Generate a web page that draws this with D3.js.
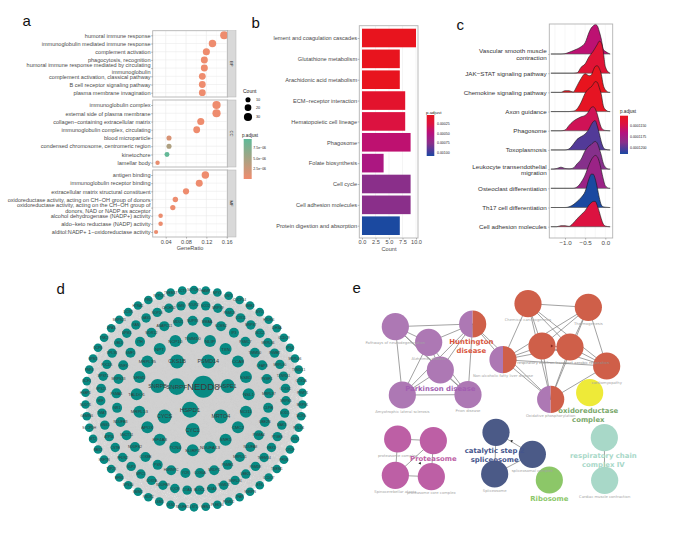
<!DOCTYPE html>
<html><head><meta charset="utf-8">
<script src="https://cdn.jsdelivr.net/npm/d3@7"></script>
<style>html,body{margin:0;background:#fff}svg{display:block}text{font-family:"Liberation Sans",Arial,sans-serif}</style>
</head><body>
<script>
// ---------- panel a
const goBP=["humoral immune response","immunoglobulin mediated immune response","complement activation","phagocytosis, recognition","humoral immune response mediated by circulating|immunoglobulin","complement activation, classical pathway","B cell receptor signaling pathway","plasma membrane invagination"];
const goCC=["immunoglobulin complex","external side of plasma membrane","collagen−containing extracellular matrix","immunoglobulin complex, circulating","blood microparticle","condensed chromosome, centromeric region","kinetochore","lamellar body"];
const goMF=["antigen binding","immunoglobulin receptor binding","extracellular matrix structural constituent","oxidoreductase activity, acting on CH−OH group of donors","oxidoreductase activity, acting on the CH−OH group of|donors, NAD or NADP as acceptor","alcohol dehydrogenase (NADP+) activity","aldo−keto reductase (NADP) activity","alditol:NADP+ 1−oxidoreductase activity"];
const ratioBP=[.155,.132,.12,.116,.116,.112,.112,.112];
const ratioCC=[.14,.14,.109,.101,.0465,.0465,.0425,.024];
const ratioMF=[.118,.106,.08,.059,.054,.03,.03,.021];
const countBP=[29,25,23,22,22,21,21,21];
const countCC=[30,30,23,21,10,10,9,5];
const countMF=[25,22,17,12,11,6,6,4];
const padjBP=[.2e-6,.2e-6,.2e-6,.2e-6,.2e-6,.2e-6,.2e-6,.2e-6];
const padjCC=[.2e-6,.2e-6,.2e-6,.2e-6,1.6e-6,4.4e-6,9.3e-6,.6e-6];
const padjMF=[.2e-6,.2e-6,.2e-6,.3e-6,.3e-6,.4e-6,.4e-6,.4e-6];
const ratioTicks=[.04,.08,.12,.16];
// ---------- panel b
const pathwaysB=["lement and coagulation cascades","Glutathione metabolism","Arachidonic acid metabolism","ECM−receptor interaction","Hematopoietic cell lineage","Phagosome","Folate biosynthesis","Cell cycle","Cell adhesion molecules","Protein digestion and absorption"];
const countsB=[10,7,7,8,8,9,4,9,9,7];
const padjB=[.00002,.00002,.00002,.00012,.00025,.00044,.00055,.00075,.00075,.00108];
const countTicks=[0,2.5,5,7.5,10];
// ---------- panel c
const pathwaysC=["Vascular smooth muscle|contraction","JAK−STAT signaling pathway","Chemokine signaling pathway","Axon guidance","Phagosome","Toxoplasmosis","Leukocyte transendothelial|migration","Osteoclast differentiation","Th17 cell differentiation","Cell adhesion molecules"];
const padjC=[.0001162,.000114,.0001127,.000113,.0001153,.0001201,.0001188,.0001179,.0001214,.0001146];
const ridgeX=[-1.35,-1.2,-1.1,-1,-.9,-.8,-.7,-.6,-.5,-.4,-.35,-.3,-.25,-.2,-.15,-.1,-.05,0,.1,.12];
const ridgeVascular=[0,0,0,1,5,10,15,22,34,66,78,84,89,85,68,45,14,8,1,0];
const ridgeJak=[0,0,0,0,0,0,1,18,28,50,58,66,76,86,96,92,66,20,1,0];
const ridgeChemokine=[0,0,0,5,5,1,20,42,56,50,52,66,78,80,72,55,22,8,0,0];
const ridgeAxon=[0,0,0,0,0,1,8,28,55,70,74,82,90,88,72,52,18,6,0,0];
const ridgePhagosome=[0,0,0,2,16,28,36,42,46,60,70,72,66,50,28,10,3,1,0,0];
const ridgeToxo=[0,0,0,0,3,16,32,40,48,64,76,85,88,72,50,25,8,2,0,0];
const ridgeLeuko=[0,2,6,2,1,3,16,30,55,70,74,80,83,78,62,42,18,6,0,0];
const ridgeOsteo=[0,0,0,0,0,0,4,18,40,72,85,94,99,95,80,55,28,8,0,0];
const ridgeTh17=[0,0,0,0,2,8,18,30,48,88,100,100,86,60,30,8,2,1,0,0];
const ridgeAdhesion=[0,0,3,3,1,10,24,36,48,66,72,76,76,64,45,24,8,2,0,0];
const ridgeTicks=[-1,-.5,0];
// ---------- panel d (concentric rings, clockwise)
const ringA=["NEDD8","HSPD1","SNRPF"];
const ringB=["PSMD14","HSPE1","MRTO4","CYC1","CYCS","SNRPB","CKS1B"];
const ringC=["TIMM10","NLIP","TXN","CCA8","SSB1","NSL1","NCI11","CMC2","SNR1","NDUFA13","SLIRP2","TCN4","EIF4A3","APOX","MRPL13","TALDO1","SRM1","MRPL35","NPT","NCP10"];
const ringD=["NUP93","MMAA","KCMS2","IP3","PSMC7","TIMM50","CFAP3","PSMF1","MRPL37","CLPB","UBE2N","PSMA4","NDUFA8","MRPL51","PSMB1","NRDP1","COX6A","YCR","HNRNPC","PSN","COX8B","NDUFS2","SNCT11","NDUFB3","NR1","PSMA1","MRPS33","RNF3","SMF1","ITH","WDR12","ANAPC11","MDU1"];
const ringE=["POLR2","SCO2","MRPS9","PSMC3","COX11","MRPS7","NCC2","MRPL34","PSMB7","MRPL30","TXNRD1","COX6C","MRPS5","SOD1","MAK3","PTGES","RBX1","TMEM14","PSMD8","UBE2L","MRPL24","PSMD7","PDIA3","BLOC1","COA4","UQCR","NDUFB9","COX7A","MPC1","NUP2","PFDN2","CSTB","ATP5L","GNG5","TMA7","MIF","RPS21","MPST1","PDCD5","RPL38","UBL5","NPM3","RAN","GAS5","NOP10","CHCHD2","SMS"];
const ringF=["NOTCH3","HAMP","NPY1","UNY1","CUCP14","NME2","MYO","HTDR4","IDH3A","CCDC9","IP54","MRPL06","TXNDC1","COX5A","PRMT1","MRPS1","MCRS","POLD4","GSS1","CYCF","PFDN","TMEM1","CCDC7","BTK","SNRPN","TFAP","PSMD2","PLEKS4","MEN1","LST1","NDUFB1","CKS2","LSM5","PRDX1","SMIM1","RPS10","MFN1","TVP23","SRFTN","RBX2","MT2","SCCPDH","GEMIN6","NUDT1","HSBP1","NCF1","PNP4","NPM1","DCPS","TNK2","RPA3","MRPS21","DCXR","HTRA2","PIN1","NTPCR","TMEM17","CCT3"];
// ---------- panel e
const emapNames=["Pathways of neurodegeneration","Alzheimer disease","","","Amyotrophic lateral sclerosis","Prion disease","Non-alcoholic fatty liver disease","Chemical carcinogenesis","Thermogenesis","","","cardiomyopathy","Oxidative phosphorylation","","","Cardiac muscle contraction","","","spliceosomal complex","Spliceosome","proteasome complex","","Spinocerebellar ataxia","proteasome core complex"];
const emapCol=["p","p","pr","p","p","p","pr","r","r","r","r","r","pr","y","g","g","l","n","n","n","m","m","m","m"];
const emapU=[166,266,398,301,187,384,489,564,745,606,690,800,632,749,793,794,628,468,577,464,173,280,166,274];
const emapV=[155,202,147,285,360,359,254,86,97,213,216,273,373,353,488,616,615,472,538,597,492,497,601,605];
const emapEdgeA=[0,0,0,0,0,1,1,1,1,2,2,2,3,3,4,2,2,6,6,6,6,6,6,7,7,7,7,7,8,8,8,8,9,9,9,10,10,11,14,17,17,18,20,20,21,21,22];
const emapEdgeB=[1,2,3,4,5,2,3,4,5,3,4,5,4,5,5,6,12,7,8,9,10,11,12,8,9,10,11,12,9,10,11,12,10,11,12,11,12,12,15,18,19,19,21,22,22,23,23];
const clusterLabels=["Huntington|disease","Parkinson disease","oxidoreductase|complex","catalytic step 2|spliceosome","Proteasome","respiratory chain|complex IV","Ribosome"];
const clusterKey=["r2","p2","o","n2","m2","g2","l2"];
const clusterU=[394,301,745,464,280,790,628];
const clusterV=[214,340,421,540,552,555,670];

const W=685,H=541;
const svg=d3.select("body").append("svg").attr("width",W).attr("height",H).attr("viewBox",[0,0,W,H]);
const ink="#4a4a4a";
function multi(sel,lh,first){
  sel.each(function(){const t=d3.select(this),parts=t.text().split("|");if(parts.length<2)return;const x=t.attr("x");t.text(null);
    parts.forEach((p,i)=>t.append("tspan").attr("x",x).attr("dy",i===0?first+"px":lh+"px").text(p));});
}
function letter(s,x,y){svg.append("text").attr("x",x).attr("y",y).attr("font-size",15).attr("fill","#111").text(s);}
letter("a",22.5,26);letter("b",251.5,28);letter("c",456.5,30);letter("d",56.5,294);letter("e",352.5,293);

const redBlue=d3.scaleLinear().domain([0,.22,.45,.69,.92,1]).range(["#e8141e","#dc1240","#b5117f","#8a2f8a","#3a3f9e","#1b49a0"]);
function gradBar(id,scale,dom,x,y0,y1,w,ticks,labels,lx){
  const [top,bottom]=dom;
  const gr=svg.append("defs").append("linearGradient").attr("id",id).attr("x1",0).attr("x2",0).attr("y1",0).attr("y2",1);
  d3.range(0,1.001,.05).forEach(t=>gr.append("stop").attr("offset",t).attr("stop-color",scale(top+(bottom-top)*t)));
  const yy=d3.scaleLinear().domain(dom).range([y0,y1]);
  svg.append("rect").attr("x",x).attr("y",y0).attr("width",w).attr("height",y1-y0).attr("fill",`url(#${id})`);
  ticks.forEach((t,i)=>svg.append("text").attr("x",lx).attr("y",yy(t)).attr("dy",".34em").attr("font-size",3.5).attr("fill","#222").text(labels[i]));
}

// ========== A
const ax=d3.scaleLinear().domain([.04,.16]).range([165.7,226.7]);
const aL=152.7,aR=227.7,aS=236;
const aCol=d3.scaleLinear().domain([.1e-6,9.6e-6]).range(["#f08c6e","#5fb998"]);
const aSize=d3.scaleLinear().domain([4,30]).range([2.1,4.1]);
const facets=[
 {k:"BP",t:30.7,b:97,c0:35.3,c1:92.7,cats:goBP,r:ratioBP,n:countBP,p:padjBP},
 {k:"CC",t:100,b:167,c0:105,c1:162.7,cats:goCC,r:ratioCC,n:countCC,p:padjCC},
 {k:"MF",t:170,b:237,c0:175,c1:232,cats:goMF,r:ratioMF,n:countMF,p:padjMF}];
const gA=svg.append("g");
facets.forEach(f=>{
  const y=d3.scalePoint().domain(f.cats).range([f.c0,f.c1]);
  const g=gA.append("g");
  g.append("rect").attr("x",aL).attr("y",f.t).attr("width",aR-aL).attr("height",f.b-f.t).attr("fill","#fff");
  g.selectAll("line.m").data(d3.range(.02,.18,.04)).join("line").attr("class","m").attr("x1",ax).attr("x2",ax).attr("y1",f.t).attr("y2",f.b).attr("stroke","#f2f2f2").attr("stroke-width",.4);
  g.selectAll("line.j").data(ratioTicks).join("line").attr("class","j").attr("x1",ax).attr("x2",ax).attr("y1",f.t).attr("y2",f.b).attr("stroke","#ebebeb").attr("stroke-width",.6);
  g.selectAll("line.h").data(f.cats).join("line").attr("class","h").attr("x1",aL).attr("x2",aR).attr("y1",d=>y(d)).attr("y2",d=>y(d)).attr("stroke","#ebebeb").attr("stroke-width",.6);
  g.selectAll("circle").data(f.cats).join("circle").attr("cx",(d,i)=>ax(f.r[i])).attr("cy",d=>y(d)).attr("r",(d,i)=>aSize(f.n[i])).attr("fill",(d,i)=>aCol(f.p[i]));
  g.append("rect").attr("x",aL).attr("y",f.t).attr("width",aR-aL).attr("height",f.b-f.t).attr("fill","none").attr("stroke","#b3b3b3").attr("stroke-width",.9);
  g.append("rect").attr("x",aR).attr("y",f.t).attr("width",aS-aR).attr("height",f.b-f.t).attr("fill","#d9d9d9").attr("stroke","#b3b3b3").attr("stroke-width",.5);
  g.append("text").attr("transform",`translate(${(aR+aS)/2},${(f.t+f.b)/2}) rotate(90)`).attr("text-anchor","middle").attr("dy",".32em").attr("font-size",4.2).attr("fill","#333").text(f.k);
  const yA=g.append("g").attr("transform",`translate(${aL},0)`).call(d3.axisLeft(y).tickSize(1.6).tickPadding(.6));
  yA.select(".domain").remove();
  yA.selectAll("line").attr("stroke","#555").attr("stroke-width",.4);
  yA.selectAll("text").attr("font-size",5.55).attr("fill",ink).call(multi,6.2,-1.2);
});
const xA=gA.append("g").attr("transform",`translate(0,237)`).call(d3.axisBottom(ax).tickValues(ratioTicks).tickFormat(d3.format(".2f")).tickSize(1.6).tickPadding(1));
xA.select(".domain").remove();xA.selectAll("line").attr("stroke","#555").attr("stroke-width",.4);
xA.selectAll("text").attr("font-size",5.6).attr("fill",ink);
gA.append("text").attr("x",190).attr("y",250).attr("text-anchor","middle").attr("font-size",5.6).attr("fill",ink).text("GeneRatio");
gA.append("text").attr("x",243).attr("y",92.5).attr("font-size",5).attr("fill","#222").text("Count");
[10,20,30].forEach((c,i)=>{const yy=[99.7,107.7,117][i];
  gA.append("circle").attr("cx",248).attr("cy",yy).attr("r",aSize(c)).attr("fill","#000");
  gA.append("text").attr("x",256).attr("y",yy).attr("dy",".34em").attr("font-size",3.8).attr("fill","#222").text(c);});
gA.append("text").attr("x",242).attr("y",136.5).attr("font-size",4.6).attr("fill","#222").text("p.adjust");
gradBar("ga",aCol,[9.6e-6,.1e-6],243.7,139,179,8,[7.5e-6,5e-6,2.5e-6],["7.5e−06","5.0e−06","2.5e−06"],253.3);

// ========== B
const bx=d3.scaleLinear().domain([0,10]).range([362,416]);
const by=d3.scalePoint().domain(pathwaysB).range([38,225.7]);
const bCol=d3.scaleLinear().domain([.00002,.00108]).range([0,1]).clamp(true);
const gB=svg.append("g");
gB.selectAll("line.g").data(countTicks).join("line").attr("class","g").attr("x1",bx).attr("x2",bx).attr("y1",25.7).attr("y2",238).attr("stroke","#ebebeb").attr("stroke-width",.5);
gB.selectAll("rect.bar").data(pathwaysB).join("rect").attr("class","bar").attr("x",bx(0)).attr("y",d=>by(d)-9.3).attr("height",18.6).attr("width",(d,i)=>bx(countsB[i])-bx(0)).attr("fill",(d,i)=>redBlue(bCol(padjB[i])));
gB.append("rect").attr("x",359.3).attr("y",25.7).attr("width",58.7).attr("height",212.3).attr("fill","none").attr("stroke","#b3b3b3").attr("stroke-width",.9);
const yB=gB.append("g").attr("transform","translate(359.3,0)").call(d3.axisLeft(by).tickSize(1.6).tickPadding(.6));
yB.select(".domain").remove();yB.selectAll("line").attr("stroke","#555").attr("stroke-width",.4);
yB.selectAll("text").attr("font-size",5.65).attr("fill",ink);
const xB=gB.append("g").attr("transform","translate(0,238)").call(d3.axisBottom(bx).tickValues(countTicks).tickFormat(d3.format(".1f")).tickSize(1.6).tickPadding(.8));
xB.select(".domain").remove();xB.selectAll("line").attr("stroke","#555").attr("stroke-width",.4);
xB.selectAll("text").attr("font-size",5.6).attr("fill",ink);
gB.append("text").attr("x",389).attr("y",251).attr("text-anchor","middle").attr("font-size",5.6).attr("fill",ink).text("Count");
svg.append("text").attr("x",426).attr("y",114).attr("font-size",4.4).attr("fill","#222").text("p.adjust");
gradBar("gb",v=>redBlue(bCol(v)),[.00002,.00108],426.7,115,156,7.6,[.00025,.0005,.00075,.001],["0.00025","0.00050","0.00075","0.00100"],437);

// ========== C
const cx=d3.scaleLinear().domain([-1,0]).range([565,605.3]);
const base=d3.scalePoint().domain(pathwaysC).range([54,226.7]);
const ch=d3.scaleLinear().domain([0,100]).range([0,-33.3]);
const cCol=d3.scaleLinear().domain([.0001127,.0001214]).range([0,1]).clamp(true);
const ridges=[ridgeVascular,ridgeJak,ridgeChemokine,ridgeAxon,ridgePhagosome,ridgeToxo,ridgeLeuko,ridgeOsteo,ridgeTh17,ridgeAdhesion];
const gC=svg.append("g");
gC.selectAll("line.g").data([-1.25,-1,-.75,-.5,-.25,0]).join("line").attr("class","g").attr("x1",cx).attr("x2",cx).attr("y1",24).attr("y2",238).attr("stroke","#efefef").attr("stroke-width",.5);
gC.selectAll("line.h").data(pathwaysC).join("line").attr("class","h").attr("x1",549.3).attr("x2",612.7).attr("y1",d=>base(d)).attr("y2",d=>base(d)).attr("stroke","#efefef").attr("stroke-width",.5);
pathwaysC.forEach((p,i)=>{
  const pts=ridgeX.map((x,k)=>[x,ridges[i][k]]);
  const b=base(p);
  const area=d3.area().x(d=>cx(d[0])).y0(b).y1(d=>b+ch(d[1])).curve(d3.curveMonotoneX);
  const line=d3.line().x(d=>cx(d[0])).y(d=>b+ch(d[1])).curve(d3.curveMonotoneX);
  gC.append("path").attr("d",area(pts)).attr("fill",redBlue(cCol(padjC[i])));
  gC.append("path").attr("d",line(pts)).attr("fill","none").attr("stroke","#1a1a1a").attr("stroke-width",.6);
  gC.append("line").attr("x1",cx(-1.35)).attr("x2",cx(.12)).attr("y1",b).attr("y2",b).attr("stroke","#555").attr("stroke-width",.6);
});
gC.append("rect").attr("x",549.3).attr("y",24).attr("width",63.4).attr("height",214).attr("fill","none").attr("stroke","#b3b3b3").attr("stroke-width",.9);
const yC=gC.append("g").attr("transform","translate(549.3,0)").call(d3.axisLeft(base).tickSize(1).tickPadding(1.6));
yC.select(".domain").remove();yC.selectAll("line").attr("stroke","#555").attr("stroke-width",.4);
yC.selectAll("text").attr("font-size",6.25).attr("fill","#333").call(multi,6.5,-1.1);
const xC=gC.append("g").attr("transform","translate(0,238)").call(d3.axisBottom(cx).tickValues(ridgeTicks).tickFormat(d=>d===0?"0.0":"−"+Math.abs(d).toFixed(1)).tickSize(1.6).tickPadding(.8));
xC.select(".domain").remove();xC.selectAll("line").attr("stroke","#555").attr("stroke-width",.4);
xC.selectAll("text").attr("font-size",6.2).attr("fill",ink);
svg.append("text").attr("x",620).attr("y",113).attr("font-size",4.6).attr("fill","#222").text("p.adjust");
gradBar("gc",v=>redBlue(cCol(v)),[.0001127,.0001214],620,115.7,154,8,[.000115,.0001175,.00012],["0.0001150","0.0001175","0.0001200"],630);

// ========== D
const du=d3.scaleLinear().domain([0,840]).range([40,320]);
const dv=d3.scaleLinear().domain([0,798]).range([275,541]);
const rings=[
 {n:ringA,cu:450,cv:358,r:46,a0:60,fs:null,nr:null},
 {n:ringB,cu:458,cv:357,r:108,a0:25.7,fs:5.4,nr:7},
 {n:ringC,cu:458,cv:358,r:168,a0:0,fs:4.4,nr:6},
 {n:ringD,cu:458,cv:366,r:229,a0:0,fs:3.5,nr:5},
 {n:ringE,cu:460,cv:368,r:278,a0:0,fs:3.3,nr:4.7},
 {n:ringF,cu:462,cv:371,r:326,a0:0,fs:3.3,nr:4.3}];
const nodes=[];
rings.forEach((R,ri)=>{
  const ang=d3.scaleLinear().domain([0,R.n.length]).range([R.a0*Math.PI/180,R.a0*Math.PI/180+2*Math.PI]);
  R.n.forEach((name,i)=>{const [px,py]=d3.pointRadial(ang(i),R.r);
    nodes.push({name,ri,x:du(R.cu+px),y:dv(R.cv+py),r:R.nr,fs:R.fs});});
});
nodes[0].r=11;nodes[0].fs=9.6;nodes[1].r=8;nodes[1].fs=6.2;nodes[2].r=8.3;nodes[2].fs=6.2;
const gD=svg.append("g");
const edges=[];
nodes.forEach((a,i)=>nodes.forEach((b,j)=>{if(j>i&&(i*7+j*13)%3===0)edges.push([a,b]);}));
gD.append("g").selectAll("line").data(edges).join("line")
  .attr("x1",d=>d[0].x).attr("y1",d=>d[0].y).attr("x2",d=>d[1].x).attr("y2",d=>d[1].y)
  .attr("stroke","#d0d0d0").attr("stroke-width",.35);
gD.selectAll("circle").data(nodes).join("circle").attr("cx",d=>d.x).attr("cy",d=>d.y).attr("r",d=>d.r).attr("fill","#078a83");
gD.selectAll("text").data(nodes).join("text").attr("x",d=>d.x).attr("y",d=>d.y).attr("dy",".35em").attr("text-anchor","middle").attr("font-size",d=>d.fs).attr("fill","#3a3a3a").text(d=>d.name);

// ========== E
const eu=d3.scaleLinear().domain([0,960]).range([340,660]);
const ev=d3.scaleLinear().domain([0,798]).range([275,541]);
const palette={p:"#ad78b4",r:"#cf5f49",y:"#eeea38",g:"#a8d8c8",l:"#8cc768",n:"#4b5a87",m:"#bd5fa5"};
const gE=svg.append("g");
gE.selectAll("line").data(emapEdgeA).join("line").attr("x1",d=>eu(emapU[d])).attr("y1",d=>ev(emapV[d])).attr("x2",(d,i)=>eu(emapU[emapEdgeB[i]])).attr("y2",(d,i)=>ev(emapV[emapEdgeB[i]])).attr("stroke","#7a7a7a").attr("stroke-width",.7);
const nodeE=gE.selectAll("g.n").data(emapU).join("g").attr("class","n").attr("transform",(d,i)=>`translate(${eu(d)},${ev(emapV[i])})`);
const arcE=d3.arc().innerRadius(0).outerRadius(13.6);
nodeE.each(function(d,i){const g=d3.select(this),c=emapCol[i];
  if(c==="pr"){
    g.append("path").attr("d",arcE({startAngle:Math.PI,endAngle:2*Math.PI})).attr("fill",palette.p);
    g.append("path").attr("d",arcE({startAngle:0,endAngle:Math.PI})).attr("fill",palette.r);
  } else g.append("circle").attr("r",13.6).attr("fill",palette[c]);
});
const arrow=d3.symbol().type(d3.symbolTriangle).size(3.5);
[[635,213,"#8a2a20",90],[240,565,"#222",140],[515,498,"#222",-50]].forEach(a=>gE.append("path").attr("d",arrow()).attr("transform",`translate(${eu(a[0])},${ev(a[1])}) rotate(${a[3]})`).attr("fill",a[2]));
const dj='"DejaVu Sans",sans-serif';
const labelOffset=49.5;
gE.selectAll("text.s").data(emapNames).join("text").attr("class","s").attr("x",(d,i)=>eu(emapU[i])).attr("y",(d,i)=>ev(emapV[i]+labelOffset)).attr("dy",".35em").attr("text-anchor","middle").attr("font-size",3.75).attr("fill","#a3a3a3").style("font-family",dj).text(d=>d);
gE.append("text").attr("x",eu(670)).attr("y",ev(264)).attr("dy",".35em").attr("text-anchor","middle").attr("font-size",3.75).attr("fill","#8f8f8f").style("font-family",dj).text("respiratory electron transport aerobic respiration");
const clusterFill={r2:"#d9563e",p2:"#a35fb2",o:"#7aa86a",n2:"#45558c",m2:"#bd5fa5",g2:"#a8d8c8",l2:"#8cc768"};
clusterLabels.forEach((s,i)=>{
  const parts=s.split("|");
  parts.forEach((line,k)=>gE.append("text").attr("x",eu(clusterU[i])).attr("y",ev(clusterV[i]+(k-(parts.length-1)/2)*25.5)).attr("dy",".35em").attr("text-anchor","middle").attr("font-size",6.9).attr("font-weight",600).attr("fill",clusterFill[clusterKey[i]]).style("font-family",dj).text(line));
});
</script>
</body></html>
